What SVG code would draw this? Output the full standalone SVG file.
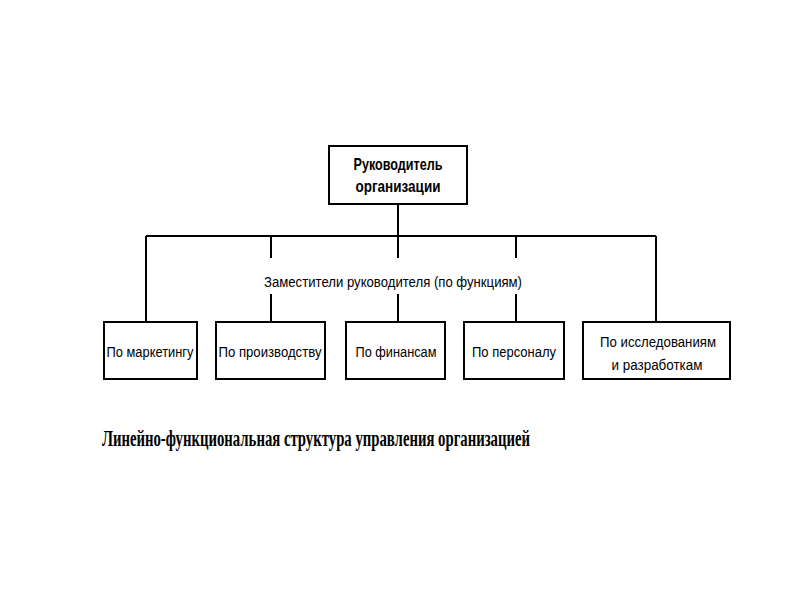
<svg xmlns="http://www.w3.org/2000/svg" width="800" height="600" viewBox="0 0 800 600">
<style>
.box{fill:#fff;stroke:#000;stroke-width:2}
.ln{stroke:#000;stroke-width:2;fill:none}
.t{font-family:"Liberation Sans Narrow","Liberation Sans",Arial,sans-serif;font-size:15.5px;fill:#000}
.tb{font-family:"Liberation Sans Narrow","Liberation Sans",Arial,sans-serif;font-size:16.5px;font-weight:bold;fill:#000}
.cap{font-family:"Liberation Serif","Times New Roman",serif;font-size:24px;font-weight:bold;fill:#000}
</style>
<rect width="800" height="600" fill="#fff"/>
<g id="connectors">
<path class="ln" d="M146 236H656M398 204V258M398 294V322M146 236V322M656 236V322M271 236V258M271 294V322M516 236V258M516 294V322"/>
</g>
<g id="head">
<rect class="box" x="329" y="146" width="138" height="58"/>
<text class="tb" x="398" y="170" text-anchor="middle" textLength="89" lengthAdjust="spacingAndGlyphs">Руководитель</text>
<text class="tb" x="398" y="192" text-anchor="middle" textLength="85" lengthAdjust="spacingAndGlyphs">организации</text>
</g>
<g id="deputies">
<text class="t" x="393" y="287" text-anchor="middle" textLength="258" lengthAdjust="spacingAndGlyphs">Заместители руководителя (по функциям)</text>
</g>
<g id="marketing">
<rect class="box" x="104" y="322" width="93" height="57"/>
<text class="t" x="150" y="357" text-anchor="middle" textLength="87" lengthAdjust="spacingAndGlyphs">По маркетингу</text>
</g>
<g id="production">
<rect class="box" x="216" y="322" width="109" height="57"/>
<text class="t" x="270" y="357" text-anchor="middle" textLength="103" lengthAdjust="spacingAndGlyphs">По производству</text>
</g>
<g id="finance">
<rect class="box" x="346" y="322" width="99" height="57"/>
<text class="t" x="396" y="357" text-anchor="middle" textLength="81" lengthAdjust="spacingAndGlyphs">По финансам</text>
</g>
<g id="personnel">
<rect class="box" x="464" y="322" width="100" height="57"/>
<text class="t" x="514" y="357" text-anchor="middle" textLength="84" lengthAdjust="spacingAndGlyphs">По персоналу</text>
</g>
<g id="research">
<rect class="box" x="583" y="322" width="147" height="57"/>
<text class="t" x="658" y="347" text-anchor="middle" textLength="116" lengthAdjust="spacingAndGlyphs">По исследованиям</text>
<text class="t" x="657" y="370" text-anchor="middle" textLength="91" lengthAdjust="spacingAndGlyphs">и разработкам</text>
</g>
<text class="cap" x="102" y="446" textLength="428" lengthAdjust="spacingAndGlyphs">Линейно-функциональная структура управления организацией</text>
</svg>
